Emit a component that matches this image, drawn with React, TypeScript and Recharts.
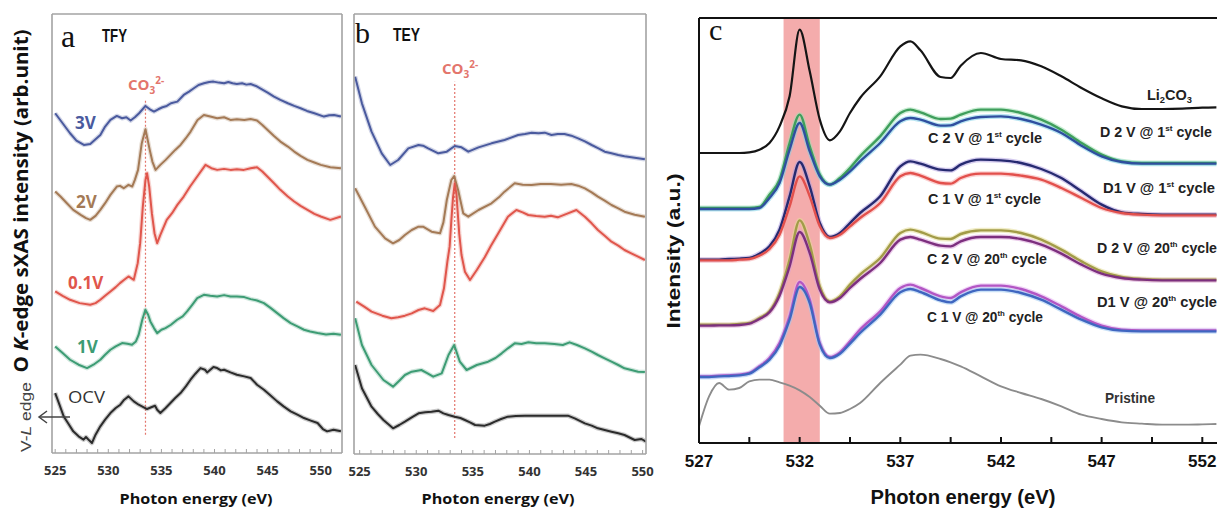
import React from "react";
import { LineChart, Line, XAxis, YAxis, ReferenceLine, ReferenceArea } from "recharts";

// (a) TFY, O K-edge sXAS, offset intensity (arb. unit); each curve has its own energy grid
const tfy3VEnergy = [525.0, 525.7, 526.4, 527.0, 527.7, 528.3, 528.8, 529.25, 529.7, 530.2, 530.8, 531.3, 531.7, 532.1, 532.5, 532.9, 533.5, 534.0, 534.3, 534.7, 535.1, 535.5, 535.9, 536.5, 537.1, 537.6, 538.05, 538.5, 539.0, 539.5, 539.9, 540.4, 540.9, 541.3, 541.7, 542.1, 542.6, 543.0, 543.4, 543.9, 544.3, 545.0, 545.6, 546.2, 546.9, 547.5, 548.1, 548.7, 549.4, 550.3, 550.8, 551.25, 551.9];
const tfy3V = [10.2, 9.9, 9.6, 9.38, 9.25, 9.28, 9.42, 9.55, 9.8, 10.0, 10.12, 10.05, 10.08, 9.98, 10.08, 10.2, 10.42, 10.3, 10.25, 10.32, 10.38, 10.42, 10.5, 10.55, 10.75, 10.85, 10.95, 11.05, 11.1, 11.14, 11.15, 11.12, 11.1, 11.14, 11.1, 11.08, 11.1, 11.06, 11.08, 11.02, 10.95, 10.82, 10.7, 10.6, 10.5, 10.42, 10.35, 10.27, 10.2, 10.1, 10.14, 10.15, 10.1];
const tfy2VEnergy = [525.0, 525.5, 526.1, 526.7, 527.4, 527.9, 528.3, 528.8, 529.25, 529.7, 530.2, 530.8, 531.1, 531.45, 531.9, 532.25, 532.5, 532.8, 533.15, 533.5, 533.9, 534.15, 534.45, 534.9, 535.4, 535.85, 536.3, 536.8, 537.3, 537.75, 538.4, 539.0, 539.6, 540.25, 540.9, 541.5, 542.1, 542.8, 543.4, 544.0, 544.5, 545.0, 545.6, 546.2, 546.9, 547.5, 548.1, 548.75, 549.4, 550.0, 550.9, 551.9];
const tfy2V = [7.85, 7.7, 7.5, 7.3, 7.15, 7.05, 7.0, 7.12, 7.3, 7.5, 7.75, 8.0, 8.02, 7.95, 8.05, 8.0, 8.2, 8.5, 9.3, 9.72, 9.1, 8.75, 8.5, 8.65, 8.8, 8.95, 9.1, 9.25, 9.45, 9.65, 10.0, 10.15, 10.1, 10.05, 10.08, 10.0, 10.02, 10.0, 10.03, 9.98, 9.85, 9.7, 9.52, 9.35, 9.2, 9.05, 8.92, 8.8, 8.72, 8.65, 8.58, 8.55];
const tfy01VEnergy = [525.0, 525.7, 526.4, 527.3, 528.3, 528.8, 529.25, 529.7, 530.2, 530.7, 531.1, 531.5, 531.9, 532.4, 532.77, 533.0, 533.25, 533.5, 533.65, 533.85, 534.1, 534.35, 534.6, 534.9, 535.5, 536.0, 536.5, 537.1, 537.7, 538.37, 539.15, 539.7, 540.25, 540.9, 541.5, 542.1, 542.76, 543.4, 544.0, 544.5, 544.97, 545.6, 546.2, 546.9, 547.5, 548.1, 548.75, 549.4, 550.0, 550.9, 551.9];
const tfy01V = [4.85, 4.72, 4.6, 4.5, 4.45, 4.5, 4.6, 4.72, 4.85, 4.98, 5.1, 5.2, 5.3, 5.2, 5.7, 6.3, 7.4, 8.2, 8.4, 8.0, 7.2, 6.6, 6.3, 6.55, 7.0, 7.2, 7.45, 7.7, 8.0, 8.3, 8.65, 8.55, 8.5, 8.53, 8.5, 8.52, 8.5, 8.55, 8.58, 8.45, 8.3, 8.1, 7.9, 7.7, 7.55, 7.42, 7.3, 7.18, 7.1, 7.0, 7.1];
const tfy1VEnergy = [525.0, 525.7, 526.4, 527.2, 528.0, 528.6, 529.25, 529.7, 530.2, 530.7, 531.3, 531.8, 532.23, 532.6, 532.86, 533.2, 533.49, 533.75, 533.96, 534.3, 534.6, 535.0, 535.38, 535.9, 536.48, 537.0, 537.42, 537.9, 538.37, 539.0, 539.6, 540.25, 540.9, 541.5, 542.1, 542.8, 543.4, 544.0, 544.65, 545.3, 545.9, 546.5, 547.17, 547.8, 548.42, 549.0, 549.7, 550.5, 551.2, 551.9];
const tfy1V = [3.2, 3.0, 2.8, 2.65, 2.55, 2.65, 2.8, 2.95, 3.1, 3.2, 3.3, 3.28, 3.25, 3.35, 3.55, 4.0, 4.3, 4.15, 3.95, 3.75, 3.6, 3.7, 3.75, 3.85, 4.0, 4.1, 4.25, 4.45, 4.65, 4.75, 4.72, 4.7, 4.74, 4.7, 4.7, 4.68, 4.62, 4.58, 4.5, 4.35, 4.2, 4.05, 3.9, 3.8, 3.7, 3.65, 3.6, 3.56, 3.58, 3.55];
const tfyOCVEnergy = [525.0, 525.4, 525.8, 526.2, 526.7, 527.2, 527.67, 527.9, 528.2, 528.46, 528.8, 529.25, 529.7, 530.2, 530.7, 531.13, 531.5, 531.9, 532.4, 532.86, 533.3, 533.65, 534.1, 534.4, 534.6, 534.9, 535.4, 535.85, 536.3, 536.8, 537.3, 537.74, 538.2, 538.68, 539.1, 539.3, 539.6, 539.9, 540.25, 540.6, 540.9, 541.5, 542.1, 542.8, 543.4, 544.0, 544.65, 545.3, 545.9, 546.5, 547.17, 547.8, 548.42, 549.0, 549.7, 550.2, 550.6, 551.2, 551.9];
const tfyOCV = [1.8, 1.45, 1.1, 0.9, 0.65, 0.5, 0.4, 0.48, 0.38, 0.3, 0.55, 0.8, 1.0, 1.2, 1.35, 1.45, 1.6, 1.7, 1.55, 1.45, 1.38, 1.32, 1.38, 1.42, 1.3, 1.2, 1.35, 1.5, 1.65, 1.8, 2.0, 2.2, 2.38, 2.55, 2.5, 2.42, 2.5, 2.58, 2.55, 2.48, 2.5, 2.42, 2.35, 2.3, 2.25, 2.05, 1.9, 1.72, 1.55, 1.4, 1.25, 1.15, 1.05, 0.98, 0.9, 0.72, 0.65, 0.7, 0.65];

// (b) TEY
const tey3VEnergy = [524.6, 525.2, 526.05, 526.95, 527.7, 528.4, 529.3, 530.2, 530.6, 531.05, 531.95, 532.7, 533.4, 534.0, 534.6, 535.5, 536.65, 537.8, 539.0, 539.6, 540.2, 540.8, 541.35, 541.95, 542.5, 543.1, 543.7, 544.3, 544.9, 545.5, 546.1, 546.65, 547.25, 547.85, 548.4, 549.0, 549.6, 550.2];
const tey3V = [11.32, 10.52, 9.67, 9.02, 8.67, 8.82, 9.17, 9.27, 9.25, 9.17, 9.02, 9.07, 9.24, 9.2, 9.07, 9.2, 9.32, 9.42, 9.57, 9.6, 9.64, 9.62, 9.64, 9.57, 9.6, 9.6, 9.55, 9.47, 9.38, 9.27, 9.17, 9.07, 9.02, 8.97, 8.93, 8.9, 8.87, 8.84];
const tey2VEnergy = [524.6, 525.45, 526.35, 527.25, 527.95, 528.5, 529.0, 529.6, 530.2, 530.6, 531.35, 532.1, 532.4, 532.7, 533.1, 533.35, 533.7, 534.15, 534.6, 535.5, 536.65, 537.3, 537.8, 538.7, 539.4, 540.2, 541.0, 541.9, 542.8, 543.7, 544.3, 544.9, 545.5, 546.05, 546.65, 547.25, 547.85, 548.4, 549.3, 550.2];
const tey2V = [7.97, 7.42, 6.82, 6.47, 6.32, 6.42, 6.57, 6.72, 6.82, 6.82, 6.67, 6.62, 6.95, 7.62, 8.22, 8.34, 7.92, 7.22, 7.12, 7.32, 7.52, 7.7, 7.87, 8.12, 8.08, 8.07, 8.1, 8.1, 8.08, 8.1, 8.05, 7.97, 7.85, 7.72, 7.6, 7.47, 7.37, 7.27, 7.18, 7.12];
const tey01VEnergy = [524.7, 525.4, 526.05, 527.0, 527.8, 528.4, 529.0, 529.6, 530.2, 530.75, 531.5, 532.1, 532.45, 532.75, 532.95, 533.1, 533.25, 533.4, 533.55, 533.65, 533.8, 534.0, 534.3, 534.75, 535.35, 536.05, 536.6, 537.25, 538.1, 538.85, 539.4, 539.9, 540.6, 541.35, 541.9, 542.5, 543.4, 544.15, 544.9, 545.5, 546.05, 546.65, 547.25, 547.85, 548.4, 549.0, 549.6, 550.2];
const tey01V = [4.57, 4.42, 4.27, 4.15, 4.07, 4.1, 4.15, 4.22, 4.32, 4.37, 4.29, 4.47, 4.97, 5.77, 6.22, 7.0, 7.7, 8.12, 7.8, 7.32, 6.6, 5.97, 5.47, 5.22, 5.52, 5.9, 6.25, 6.62, 7.12, 7.32, 7.25, 7.17, 7.14, 7.12, 7.15, 7.1, 7.22, 7.32, 7.12, 6.92, 6.72, 6.55, 6.37, 6.25, 6.12, 6.02, 5.92, 5.82];
const tey1VEnergy = [524.6, 525.2, 526.05, 527.1, 527.95, 528.5, 529.0, 529.6, 530.45, 531.0, 531.5, 532.25, 532.85, 533.35, 533.85, 534.45, 535.35, 536.35, 537.0, 537.55, 538.1, 538.7, 539.3, 539.9, 540.6, 541.35, 542.2, 542.95, 543.55, 544.2, 544.9, 545.5, 546.05, 546.65, 547.25, 547.85, 548.4, 549.0, 549.6, 550.2];
const tey1V = [4.07, 3.27, 2.67, 2.22, 2.02, 2.2, 2.37, 2.47, 2.52, 2.42, 2.32, 2.42, 2.97, 3.27, 2.77, 2.52, 2.67, 2.77, 2.88, 3.02, 3.17, 3.32, 3.3, 3.35, 3.32, 3.32, 3.3, 3.27, 3.35, 3.27, 3.17, 3.07, 2.97, 2.87, 2.77, 2.67, 2.57, 2.52, 2.47, 2.46];
const teyOCVEnergy = [524.6, 525.2, 526.05, 526.6, 527.1, 527.95, 528.5, 529.0, 529.6, 530.2, 530.8, 531.35, 531.95, 532.4, 532.85, 533.4, 533.9, 534.3, 534.75, 535.2, 536.05, 536.5, 536.95, 537.5, 538.1, 538.8, 539.6, 540.5, 541.35, 542.4, 543.4, 544.0, 544.9, 545.5, 546.05, 546.65, 547.25, 547.85, 548.4, 549.3, 549.9, 550.3];
const teyOCV = [2.67, 1.97, 1.42, 1.2, 1.02, 0.77, 0.87, 0.97, 1.1, 1.22, 1.25, 1.27, 1.3, 1.22, 1.17, 1.12, 1.08, 1.02, 0.95, 0.87, 0.85, 0.9, 0.97, 1.05, 1.12, 1.14, 1.15, 1.15, 1.15, 1.15, 1.15, 1.07, 0.92, 0.85, 0.77, 0.72, 0.67, 0.62, 0.57, 0.42, 0.45, 0.37];

// (c) cycled electrodes vs references
const energyC = [527, 527.5, 528, 528.5, 529, 529.5, 530, 530.5, 531, 531.5, 532, 532.5, 533, 533.5, 534, 534.5, 535, 536, 537, 537.5, 538, 539, 539.5, 540, 541, 542, 543, 544, 545, 546, 547, 548, 549, 550, 551, 552, 552.7];
const li2co3 = [8.7, 8.7, 8.7, 8.7, 8.7, 8.72, 8.8, 9.0, 9.5, 10.4, 12.4, 11.15, 9.7, 9.08, 9.35, 9.9, 10.35, 11.0, 11.9, 12.05, 11.78, 10.98, 10.95, 11.32, 11.7, 11.52, 11.48, 11.3, 11.0, 10.65, 10.34, 10.1, 10.02, 10.02, 10.03, 10.06, 10.07];
const d2v1st = [7.05, 7.05, 7.05, 7.05, 7.05, 7.05, 7.08, 7.45, 7.9, 9.0, 9.85, 8.9, 8.05, 7.75, 7.95, 8.25, 8.6, 9.2, 9.9, 10.0, 9.92, 9.72, 9.73, 9.85, 10.0, 10.0, 9.9, 9.7, 9.4, 9.0, 8.65, 8.45, 8.4, 8.4, 8.4, 8.4, 8.4];
const c2v1st = [7.02, 7.02, 7.02, 7.02, 7.02, 7.02, 7.05, 7.35, 7.8, 8.8, 9.6, 8.75, 8.0, 7.75, 7.9, 8.15, 8.45, 9.0, 9.65, 9.75, 9.7, 9.52, 9.53, 9.65, 9.78, 9.8, 9.72, 9.55, 9.3, 8.92, 8.6, 8.43, 8.38, 8.38, 8.38, 8.38, 8.38];
const d1v1st = [5.5, 5.5, 5.5, 5.52, 5.53, 5.55, 5.68, 5.9, 6.4, 7.4, 8.43, 7.7, 6.6, 6.18, 6.3, 6.6, 6.9, 7.4, 8.3, 8.45, 8.38, 8.2, 8.18, 8.35, 8.5, 8.48, 8.4, 8.22, 7.95, 7.55, 7.15, 6.92, 6.87, 6.85, 6.85, 6.85, 6.85];
const c1v1st = [5.48, 5.48, 5.48, 5.48, 5.5, 5.52, 5.62, 5.82, 6.25, 7.1, 8.0, 7.4, 6.5, 6.15, 6.25, 6.5, 6.75, 7.2, 8.0, 8.1, 8.02, 7.8, 7.78, 7.95, 8.08, 8.08, 8.02, 7.9, 7.65, 7.35, 7.05, 6.9, 6.85, 6.83, 6.83, 6.83, 6.83];
const d2v20th = [3.55, 3.55, 3.55, 3.55, 3.57, 3.6, 3.75, 3.95, 4.5, 5.5, 6.68, 5.95, 4.7, 4.25, 4.4, 4.75, 5.05, 5.55, 6.3, 6.4, 6.33, 6.13, 6.12, 6.27, 6.38, 6.38, 6.3, 6.1, 5.8, 5.45, 5.15, 4.98, 4.92, 4.9, 4.9, 4.9, 4.9];
const c2v20th = [3.52, 3.52, 3.53, 3.53, 3.54, 3.58, 3.72, 3.92, 4.42, 5.3, 6.33, 5.7, 4.6, 4.22, 4.35, 4.65, 4.92, 5.4, 6.1, 6.18, 6.1, 5.92, 5.9, 6.05, 6.18, 6.18, 6.12, 5.95, 5.68, 5.35, 5.08, 4.95, 4.9, 4.88, 4.88, 4.88, 4.88];
const d1v20th = [2.0, 2.0, 2.02, 2.03, 2.05, 2.1, 2.3, 2.55, 3.0, 3.8, 4.83, 4.3, 3.0, 2.58, 2.72, 3.05, 3.4, 3.95, 4.65, 4.75, 4.65, 4.4, 4.35, 4.52, 4.72, 4.72, 4.62, 4.4, 4.1, 3.78, 3.52, 3.4, 3.38, 3.38, 3.38, 3.38, 3.38];
const c1v20th = [1.98, 1.98, 2.0, 2.01, 2.03, 2.08, 2.27, 2.5, 2.92, 3.7, 4.68, 4.2, 2.95, 2.55, 2.68, 2.98, 3.3, 3.85, 4.52, 4.62, 4.53, 4.28, 4.22, 4.4, 4.6, 4.6, 4.5, 4.3, 4.0, 3.7, 3.47, 3.37, 3.35, 3.35, 3.35, 3.35, 3.35];
const pristine = [0.5, 1.4, 1.8, 1.6, 1.65, 1.85, 1.9, 1.9, 1.82, 1.72, 1.58, 1.38, 1.12, 0.88, 0.9, 1.02, 1.2, 1.8, 2.35, 2.62, 2.65, 2.52, 2.42, 2.3, 2.0, 1.7, 1.5, 1.32, 1.1, 0.85, 0.72, 0.62, 0.58, 0.55, 0.55, 0.56, 0.57];
// carbonate window highlighted in (c)
const bandC = [531.2, 533.0];

const ticksA = [525, 526, 527, 528, 529, 530, 531, 532, 533, 534, 535, 536, 537, 538, 539, 540, 541, 542, 543, 544, 545, 546, 547, 548, 549, 550, 551];
const ticksB = [525, 526, 527, 528, 529, 530, 531, 532, 533, 534, 535, 536, 537, 538, 539, 540, 541, 542, 543, 544, 545, 546, 547, 548, 549, 550];
const ticksC = [527, 529.5, 532, 534.5, 537, 539.5, 542, 544.5, 547, 549.5, 552];
const domainC: [number, number] = [527, 552.73];
const yMaxC = 12.75;

const FRAME = "#a3a3a3";
const RED_MARK = "#e3756c";

type Trace = { key: string; energy: number[]; values: number[]; color: string };
type Series = { key: string; values: number[]; color: string; halo?: string; width?: number };

const toPoints = (energy: number[], values: number[]) => energy.map((e, i) => ({ e, v: values[i] }));

function buildRows(energy: number[], series: Series[]) {
  return energy.map((e, i) => {
    const row: Record<string, number> = { e };
    series.forEach((s) => (row[s.key] = s.values[i]));
    return row;
  });
}

function XasPanel(props: {
  traces: Trace[];
  xDomain: [number, number];
  yMax: number;
  xTicks: number[];
  yTicks: number[];
  markX: number;
  markY: [number, number];
  width: number;
  margin: { top: number; right: number; bottom: number; left: number };
}) {
  return (
    <LineChart width={props.width} height={508} margin={props.margin}>
      <XAxis
        dataKey="e"
        type="number"
        domain={props.xDomain}
        ticks={props.xTicks}
        interval={0}
        height={20}
        allowDataOverflow
        tickFormatter={(v: number) => (v % 5 === 0 ? String(v) : "")}
        tickSize={-4}
        tickMargin={17}
        axisLine={{ stroke: FRAME, strokeWidth: 1.6 }}
        tickLine={{ stroke: FRAME, strokeWidth: 1 }}
        tick={{ fill: "#333", fontSize: 13, fontWeight: 700, fontFamily: "Open Sans" }}
      />
      <XAxis
        xAxisId="top"
        orientation="top"
        dataKey="e"
        type="number"
        domain={props.xDomain}
        ticks={props.xTicks}
        interval={0}
        height={1}
        allowDataOverflow
        tick={false}
        tickSize={-4}
        axisLine={{ stroke: FRAME, strokeWidth: 1.6 }}
        tickLine={{ stroke: FRAME, strokeWidth: 1 }}
      />
      <YAxis
        type="number"
        domain={[0, props.yMax]}
        ticks={props.yTicks}
        width={1}
        allowDataOverflow
        tick={false}
        tickSize={-5}
        axisLine={{ stroke: FRAME, strokeWidth: 1.6 }}
        tickLine={{ stroke: FRAME, strokeWidth: 1 }}
      />
      <YAxis
        yAxisId="right"
        orientation="right"
        type="number"
        domain={[0, props.yMax]}
        width={1}
        tick={false}
        tickLine={false}
        axisLine={{ stroke: FRAME, strokeWidth: 1.6 }}
      />
      <ReferenceLine
        segment={[
          { x: props.markX, y: props.markY[0] },
          { x: props.markX, y: props.markY[1] },
        ]}
        stroke={RED_MARK}
        strokeWidth={1.2}
        strokeDasharray="2 2"
      />
      {props.traces.map((t) => (
        <Line
          key={t.key + "-halo"}
          data={toPoints(t.energy, t.values)}
          type="linear"
          dataKey="v"
          stroke={t.color}
          strokeOpacity={0.25}
          strokeWidth={4.5}
          strokeLinejoin="round"
          dot={false}
          isAnimationActive={false}
        />
      ))}
      {props.traces.map((t) => (
        <Line
          key={t.key}
          data={toPoints(t.energy, t.values)}
          type="linear"
          dataKey="v"
          stroke={t.color}
          strokeWidth={2}
          strokeLinejoin="round"
          dot={false}
          isAnimationActive={false}
        />
      ))}
    </LineChart>
  );
}

const C3V = "#4a5a9e";
const C2V = "#a47a56";
const C01V = "#e0564c";
const C1V = "#3d9c74";
const COCV = "#2b2b2b";

const tracesA: Trace[] = [
  { key: "v3", energy: tfy3VEnergy, values: tfy3V, color: C3V },
  { key: "v2", energy: tfy2VEnergy, values: tfy2V, color: C2V },
  { key: "v01", energy: tfy01VEnergy, values: tfy01V, color: C01V },
  { key: "v1", energy: tfy1VEnergy, values: tfy1V, color: C1V },
  { key: "ocv", energy: tfyOCVEnergy, values: tfyOCV, color: COCV },
];
const tracesB: Trace[] = [
  { key: "v3", energy: tey3VEnergy, values: tey3V, color: C3V },
  { key: "v2", energy: tey2VEnergy, values: tey2V, color: C2V },
  { key: "v01", energy: tey01VEnergy, values: tey01V, color: C01V },
  { key: "v1", energy: tey1VEnergy, values: tey1V, color: C1V },
  { key: "ocv", energy: teyOCVEnergy, values: teyOCV, color: COCV },
];
const seriesC: Series[] = [
  { key: "li", values: li2co3, color: "#151515", width: 2.2 },
  { key: "d21", values: d2v1st, color: "#3f9e5c", halo: "#9fe0b0", width: 2.4 },
  { key: "c21", values: c2v1st, color: "#2f4f9f", halo: "#7fd0e8", width: 2.4 },
  { key: "d11", values: d1v1st, color: "#262a70", halo: "#b0a0e0", width: 2.4 },
  { key: "c11", values: c1v1st, color: "#e2504c", halo: "#f7aaaa", width: 2.4 },
  { key: "d220", values: d2v20th, color: "#a29c48", halo: "#e4dc98", width: 2.4 },
  { key: "c220", values: c2v20th, color: "#7c2f7e", halo: "#d8a0d8", width: 2.4 },
  { key: "d120", values: d1v20th, color: "#b256c4", halo: "#e6b0f0", width: 2.4 },
  { key: "c120", values: c1v20th, color: "#3f66c0", halo: "#9cc8f0", width: 2.4 },
  { key: "pr", values: pristine, color: "#8c8c8c", width: 1.9 },
];

// the highlighted CO3 band sits in its own chart underneath, so the curves stay on top
function CycleBand() {
  const rows = buildRows(energyC, seriesC);
  return (
    <LineChart width={557} height={508} data={rows} margin={{ top: 17, right: 0, bottom: 45, left: 38 }}>
      <XAxis dataKey="e" type="number" domain={domainC} height={20} tick={false} tickLine={false} axisLine={false} allowDataOverflow />
      <XAxis xAxisId="top" orientation="top" dataKey="e" type="number" domain={domainC} height={1} tick={false} tickLine={false} axisLine={false} />
      <YAxis type="number" domain={[0, yMaxC]} width={1} tick={false} tickLine={false} axisLine={false} allowDataOverflow />
      <ReferenceArea x1={bandC[0]} x2={bandC[1]} y1={0} y2={yMaxC} fill="#f3a3a3" fillOpacity={0.9} stroke="none" ifOverflow="visible" />
      <Line dataKey="li" stroke="none" dot={false} isAnimationActive={false} />
    </LineChart>
  );
}

function CyclePanel() {
  const rows = buildRows(energyC, seriesC);
  return (
    <LineChart width={557} height={508} data={rows} margin={{ top: 17, right: 0, bottom: 45, left: 38 }}>
      <XAxis
        dataKey="e"
        type="number"
        domain={domainC}
        ticks={ticksC}
        interval={0}
        height={20}
        allowDataOverflow
        tickFormatter={(v: number) => (Number.isInteger(v) ? String(v) : "")}
        tickSize={-6}
        tickMargin={18}
        axisLine={{ stroke: "#111", strokeWidth: 2.2 }}
        tickLine={{ stroke: "#111", strokeWidth: 2 }}
        tick={{ fill: "#111", fontSize: 17, fontWeight: 700, fontFamily: "Liberation Sans" }}
      />
      <XAxis
        xAxisId="top"
        orientation="top"
        dataKey="e"
        type="number"
        domain={domainC}
        ticks={ticksC}
        height={1}
        tick={false}
        tickLine={false}
        axisLine={{ stroke: "#111", strokeWidth: 2 }}
      />
      <YAxis
        type="number"
        domain={[0, yMaxC]}
        ticks={[0, yMaxC]}
        width={1}
        tick={false}
        tickLine={false}
        axisLine={{ stroke: "#111", strokeWidth: 2 }}
      />
      {seriesC
        .filter((s) => s.halo)
        .map((s) => (
          <Line
            key={s.key + "-halo"}
            type="monotone"
            dataKey={s.key}
            stroke={s.halo}
            strokeOpacity={0.55}
            strokeWidth={5}
            dot={false}
            isAnimationActive={false}
          />
        ))}
      {seriesC.map((s) => (
        <Line
          key={s.key}
          type="monotone"
          dataKey={s.key}
          stroke={s.color}
          strokeWidth={s.width}
          dot={false}
          isAnimationActive={false}
        />
      ))}
    </LineChart>
  );
}

function Co3({ x, y }: { x: number; y: number }) {
  return (
    <text x={x} y={y} fill={RED_MARK} fontFamily="Open Sans" fontWeight={700} fontSize={15}>
      CO
      <tspan fontSize={10} dy={4}>3</tspan>
      <tspan fontSize={10} dy={-10}>2-</tspan>
    </text>
  );
}

function CycleLabel({ x, y, head, num, sup, len }: { x: number; y: number; head: string; num: string; sup: string; len: number }) {
  return (
    <text x={x} y={y} fill="#222" fontFamily="Liberation Sans" fontWeight={700} fontSize={14} textLength={len} lengthAdjust="spacingAndGlyphs">
      {head + " @ " + num}
      <tspan fontSize={8} dy={-6}>{sup}</tspan>
      <tspan dy={6}>{" cycle"}</tspan>
    </text>
  );
}

function Overlay() {
  const curveLabel = { fontFamily: "Open Sans", fontWeight: 700, fontSize: 17 } as const;
  return (
    <svg width={1217} height={508} style={{ position: "absolute", left: 0, top: 0, pointerEvents: "none" }}>
      {/* panel a */}
      <text
        transform="translate(28,201) rotate(-90)"
        textAnchor="middle"
        fontFamily="Open Sans"
        fontWeight={700}
        fontSize={19}
        fill="#111"
        textLength={343}
        lengthAdjust="spacingAndGlyphs"
      >
        O <tspan fontStyle="italic">K</tspan>-edge sXAS intensity (arb.unit)
      </text>
      <text
        transform="translate(31,417) rotate(-90)"
        textAnchor="middle"
        fontFamily="Liberation Sans"
        fontSize={14}
        fill="#444"
        textLength={70}
        lengthAdjust="spacingAndGlyphs"
      >
        V-<tspan fontStyle="italic">L</tspan> edge
      </text>
      <line x1={39} y1={417} x2={70} y2={417} stroke="#444" strokeWidth={1.5} />
      <polyline points="47,411 39,417 47,423" fill="none" stroke="#444" strokeWidth={1.5} />
      <text x={61} y={47} fontFamily="Liberation Serif" fontSize={32} fill="#111">a</text>
      <text x={102} y={42} fontFamily="Liberation Sans" fontWeight={700} fontSize={18} fill="#111" textLength={25} lengthAdjust="spacingAndGlyphs">TFY</text>
      <Co3 x={128} y={90} />
      <text x={75} y={129} {...curveLabel} fill={C3V}>3V</text>
      <text x={76} y={208} {...curveLabel} fill={C2V}>2V</text>
      <text x={68} y={289} {...curveLabel} fill={C01V}>0.1V</text>
      <text x={77} y={353} {...curveLabel} fill={C1V}>1V</text>
      <text x={68} y={403} fontFamily="Open Sans" fontSize={17} fill="#333" textLength={37} lengthAdjust="spacingAndGlyphs">OCV</text>
      <text x={196} y={504} textAnchor="middle" fontFamily="Open Sans" fontWeight={700} fontSize={15} fill="#111" textLength={153} lengthAdjust="spacingAndGlyphs">
        Photon energy (eV)
      </text>

      {/* panel b */}
      <text x={355} y={43} fontFamily="Liberation Serif" fontSize={30} fill="#111">b</text>
      <text x={393} y={41} fontFamily="Liberation Sans" fontWeight={700} fontSize={18} fill="#111" textLength={27} lengthAdjust="spacingAndGlyphs">TEY</text>
      <Co3 x={442} y={74} />
      <text x={498} y={504} textAnchor="middle" fontFamily="Open Sans" fontWeight={700} fontSize={15} fill="#111" textLength={153} lengthAdjust="spacingAndGlyphs">
        Photon energy (eV)
      </text>

      {/* panel c */}
      <text x={709} y={40} fontFamily="Liberation Serif" fontSize={30} fill="#111">c</text>
      <text
        transform="translate(680,251) rotate(-90)"
        textAnchor="middle"
        fontFamily="Liberation Sans"
        fontWeight={700}
        fontSize={19}
        fill="#111"
        textLength={155}
        lengthAdjust="spacingAndGlyphs"
      >
        Intensity (a.u.)
      </text>
      <text x={963} y={504} textAnchor="middle" fontFamily="Liberation Sans" fontWeight={700} fontSize={20} fill="#111" textLength={185} lengthAdjust="spacingAndGlyphs">
        Photon energy (eV)
      </text>
      <text x={1147} y={100} fill="#222" fontFamily="Liberation Sans" fontWeight={700} fontSize={14} textLength={45} lengthAdjust="spacingAndGlyphs">
        Li<tspan fontSize={9} dy={3}>2</tspan>
        <tspan dy={-3}>CO</tspan>
        <tspan fontSize={9} dy={3}>3</tspan>
      </text>
      <CycleLabel x={1100} y={137} head="D 2 V" num="1" sup="st" len={112} />
      <CycleLabel x={928} y={143} head="C 2 V" num="1" sup="st" len={114} />
      <CycleLabel x={1103} y={193} head="D1 V" num="1" sup="st" len={112} />
      <CycleLabel x={928} y={204} head="C 1 V" num="1" sup="st" len={113} />
      <CycleLabel x={1097} y={253} head="D 2 V" num="20" sup="th" len={120} />
      <CycleLabel x={927} y={264} head="C 2 V" num="20" sup="th" len={120} />
      <CycleLabel x={1097} y={307} head="D1 V" num="20" sup="th" len={120} />
      <CycleLabel x={927} y={322} head="C 1 V" num="20" sup="th" len={116} />
      <text x={1105} y={403} fill="#333" fontFamily="Liberation Sans" fontWeight={700} fontSize={14} textLength={50} lengthAdjust="spacingAndGlyphs">
        Pristine
      </text>
    </svg>
  );
}

export default function App() {
  return (
    <div style={{ position: "absolute", left: 0, top: 0, width: 1217, height: 508, overflow: "hidden", background: "#fff" }}>
      <div style={{ position: "absolute", left: 0, top: 0 }}>
        <XasPanel
          traces={tracesA}
          xDomain={[524.7, 552]}
          yMax={13.18}
          xTicks={ticksA}
          yTicks={[3.3, 6.57, 9.85]}
          markX={533.5}
          markY={[0.55, 10.6]}
          width={360}
          margin={{ top: 13, right: 17, bottom: 35, left: 51 }}
        />
      </div>
      <div style={{ position: "absolute", left: 340, top: 0 }}>
        <XasPanel
          traces={tracesB}
          xDomain={[524.5, 550.3]}
          yMax={13.2}
          xTicks={ticksB}
          yTicks={[0.42, 3.52, 6.62, 9.72]}
          markX={533.4}
          markY={[0.48, 11.17]}
          width={320}
          margin={{ top: 13, right: 13, bottom: 34, left: 13 }}
        />
      </div>
      <div style={{ position: "absolute", left: 660, top: 0 }}>
        <CycleBand />
      </div>
      <div style={{ position: "absolute", left: 660, top: 0 }}>
        <CyclePanel />
      </div>
      <Overlay />
    </div>
  );
}
